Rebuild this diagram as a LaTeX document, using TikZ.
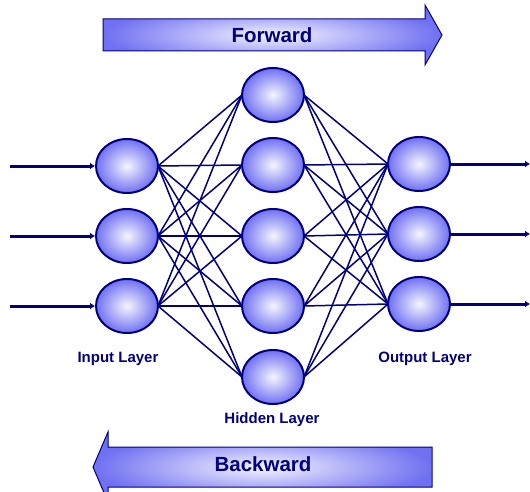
\documentclass[tikz,border=0pt]{standalone}
\usepackage{fontspec}
\setmainfont{Liberation Sans}
\usetikzlibrary{shapes.geometric,arrows.meta}
\definecolor{navy}{RGB}{0,0,128}
\definecolor{edgeblue}{RGB}{112,112,242}
\definecolor{centerblue}{RGB}{245,245,255}
\tikzset{
  neuron/.style={ellipse,draw=navy,line width=2pt,minimum width=62pt,minimum height=54pt,inner sep=0pt,
    inner color=centerblue,outer color=edgeblue},
  link/.style={draw=navy,line width=1.5pt},
  io/.style={draw=navy,line width=3pt,-{Latex[length=5pt,width=7pt]}},
  lbl/.style={text=navy,font=\bfseries\fontsize{15}{18}\selectfont},
  biglbl/.style={text=navy,font=\bfseries\fontsize{20.5}{24}\selectfont},
  bigarrow/.style={draw=navy,line width=1pt,inner color=centerblue,outer color=edgeblue}
}
\begin{document}
\begin{tikzpicture}[x=1pt,y=-1pt]
\clip (0,0) rectangle (530,492);
\fill[white] (0,0) rectangle (530,492);
% big arrows
\shade[bigarrow] (103,19) -- (425,19) -- (425,5) -- (442,35) -- (425,65) -- (425,51) -- (103,51) -- cycle;
\node[biglbl] (fw) at (272,35) {Forward};
\shade[bigarrow] (432,447) -- (108,447) -- (108,432) -- (93,467) -- (108,502) -- (108,487) -- (432,487) -- cycle;
\node[biglbl] (bw) at (263,464) {Backward};
% node positions
\foreach \i/\y in {1/166,2/236,3/306}{
  \coordinate (i\i) at (127,\y);
}
\foreach \i/\y in {1/95,2/165,3/236,4/306,5/377}{
  \coordinate (h\i) at (273,\y);
}
\foreach \i/\y in {1/164,2/234,3/304}{
  \coordinate (o\i) at (419,\y);
}
% connections (east/west points of the ellipses)
\foreach \a in {1,2,3}{
  \foreach \b in {1,...,5}{
    \draw[link] ([xshift=31pt]i\a) -- ([xshift=-31pt]h\b);
    \draw[link] ([xshift=31pt]h\b) -- ([xshift=-31pt]o\a);
  }
}
% neurons
\foreach \i in {1,2,3}{
  \node[neuron] (ni\i) at (i\i) {};
  \node[neuron] (no\i) at (o\i) {};
}
\foreach \i in {1,...,5}{
  \node[neuron] (nh\i) at (h\i) {};
}
% input / output lines
\foreach \i in {1,2,3}{
  \coordinate (s\i) at (10,0 |- ni\i);
  \draw[io] (s\i) -- (ni\i.west);
  \coordinate (e\i) at (530,0 |- no\i);
  \draw[io] (no\i.east) -- (e\i);
}
% labels
\node[lbl] (li) at (118,359) {Input Layer};
\node[lbl] (lo) at (425,359) {Output Layer};
\node[lbl] (lh) at (272,420) {Hidden Layer};
\end{tikzpicture}
\end{document}
